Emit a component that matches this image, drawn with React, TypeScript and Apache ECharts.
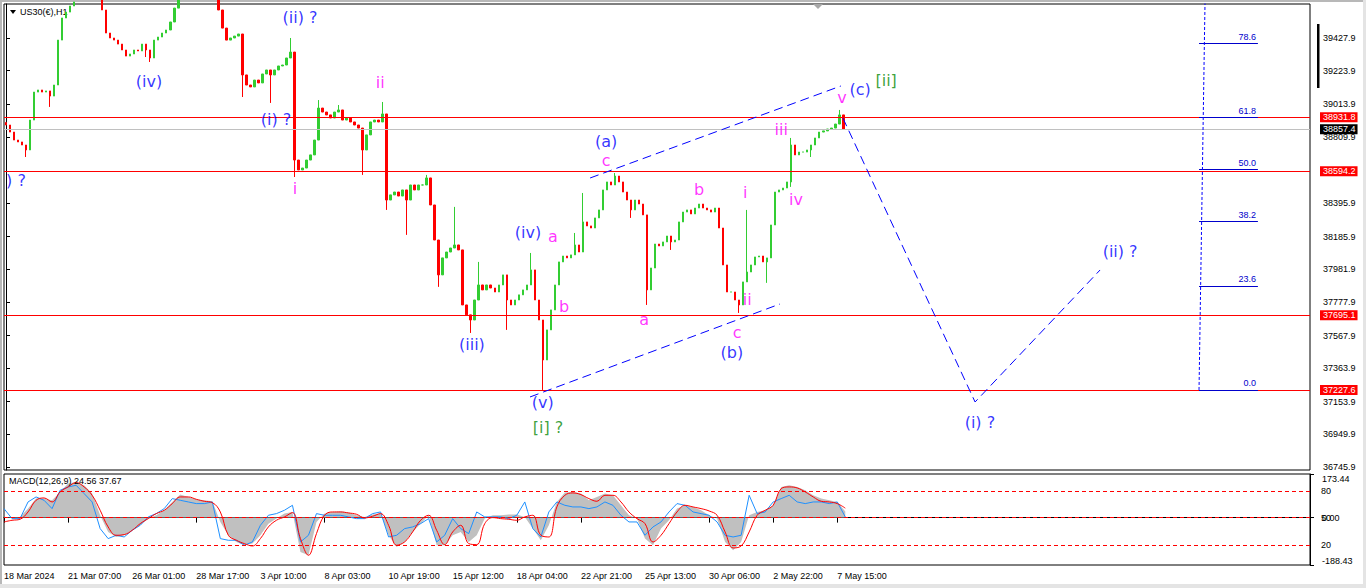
import { useEffect, useRef } from 'react';
import * as echarts from 'echarts';

// ---------- price data (H1 bars resampled, one value per ~4 px column) ----------
const firstOpen = 38900;
const closes = [
  38884, 38840, 38790, 38778, 38759, 38728, 38915, 39090, 39103, 39090,
  39097, 39065, 39134, 39415, 39553, 39590, 39628, 39653, 39728, 39759,
  39790, 39759, 39728, 39697, 39603, 39459, 39428, 39415, 39390, 39353,
  39315, 39328, 39353, 39347, 39390, 39353, 39303, 39415, 39434, 39459,
  39478, 39528, 39615, 39697, 39759, 39790, 39822, 39822, 39790, 39790,
  39759, 39728, 39678, 39603, 39490, 39415, 39428, 39440, 39453, 39197,
  39134, 39122, 39165, 39147, 39203, 39228, 39197, 39228, 39253, 39259,
  39303, 39340, 38665, 38603, 38615, 38665, 38697, 38790, 38990, 38965,
  38947, 38928, 38965, 38978, 38915, 38928, 38903, 38884, 38865, 38728,
  38822, 38903, 38915, 38903, 38953, 38415, 38447, 38465, 38440, 38478,
  38415, 38509, 38478, 38509, 38509, 38553, 38384, 38165, 37947, 38053,
  38090, 38115, 38134, 38103, 37759, 37697, 37665, 37790, 37884, 37853,
  37884, 37865, 37840, 37884, 37947, 37790, 37759, 37790, 37822, 37853,
  37884, 37978, 37790, 37665, 37415, 37603, 37728, 37884, 38028, 38065,
  38053, 38072, 38134, 38090, 38278, 38253, 38240, 38303, 38353, 38478,
  38528, 38509, 38565, 38528, 38465, 38415, 38353, 38415, 38390, 38322,
  37853, 37990, 38140, 38128, 38153, 38190, 38153, 38165, 38278, 38340,
  38353, 38328, 38365, 38390, 38365, 38353, 38340, 38365, 38240, 38009,
  37840, 37840, 37790, 37759, 37903, 37965, 38009, 38059, 38065, 38028,
  38053, 38259, 38465, 38478, 38490, 38528, 38759, 38697, 38715, 38715,
  38728, 38759, 38803, 38840, 38847, 38859, 38865, 38890, 38947, 38857.4,
];
// wick extremes: [bar index, price]
const wicks: [number, number][] = [
  [5, 38684], [11, 38997], [35, 39309], [36, 39278], [59, 39059], [66, 39022],
  [71, 39428], [72, 38559], [78, 39040], [83, 39009], [89, 38572], [94, 39028],
  [95, 38353], [100, 38197], [105, 38572], [108, 37872], [112, 38372], [116, 37584],
  [118, 38028], [125, 37603], [131, 38084], [134, 37227.6], [142, 38209], [144, 38459],
  [152, 38584], [156, 38303], [160, 37759], [166, 38103], [183, 37709], [185, 38353],
  [190, 37897], [196, 38497], [196, 38803], [201, 38684], [208, 38978],
];

const priceTicks = [39427.9, 39223.9, 39013.9, 38809.9, 38395.9, 38185.9, 37981.9, 37777.9,
  37567.9, 37363.9, 37153.9, 36949.9, 36745.9];
const redLevels = [38931.8, 38594.2, 37695.1, 37227.6];
const bidPrice = 38857.4;

const timeLabels = ['18 Mar 2024', '21 Mar 07:00', '26 Mar 01:00', '28 Mar 17:00', '3 Apr 10:00',
  '8 Apr 03:00', '10 Apr 19:00', '15 Apr 12:00', '18 Apr 04:00', '22 Apr 21:00', '25 Apr 13:00',
  '30 Apr 06:00', '2 May 22:00', '7 May 15:00'];

// ---------- MACD (one value per ~8 px column) ----------
const macdHist = [
  0, 2.7, 2.7, 35.8, 75.6, 75.6, 68.9, 102.1, 135.2, 141.8,
  128.6, 95.5, 9.3, -57, -76.9, -70.3, -50.4, -30.5, -4, 9.3,
  29.2, 62.3, 91.5, 82.2, 72.9, 68.9, 65, -17.2, -70.3, -96.8,
  -110, -103.4, -70.3, -23.9, -4, 15.9, 22.5, -136.5, -149.8, -17.2,
  15.9, 22.5, 25.2, 19.9, 9.3, 2.7, 11.9, 15.9, -70.3, -116.7,
  -96.8, -57, -23.9, 9.3, -110, -110, -70.3, -57, -96.8, -70.3,
  -4, 9.3, 9.3, 11.9, 11.9, 2.7, -43.7, -90.1, -30.5, 62.3,
  99.4, 102.1, 95.5, 68.9, 82.2, 95.5, 88.8, 49, 9.3, -4,
  -83.5, -110, -43.7, -10.6, 35.8, 49, 42.4, 29.2, 9.3, -4,
  -96.8, -129.9, -96.8, 9.3, 22.5, 29.2, 49, 122, 128.6, 122,
  108.7, 88.8, 75.6, 68.9, 62.3, 24.56,
];
const macdBlue = [
  35.8, -4, -4, 62.3, 82.2, 68.9, 35.8, 108.7, 122, 128.6,
  95.5, 62.3, -43.7, -83.5, -70.3, -76.9, -50.4, -30.5, 2.7, 15.9,
  35.8, 75.6, 68.9, 62.3, 55.7, 55.7, 62.3, -83.5, -90.1, -90.1,
  -110, -96.8, -30.5, 9.3, 15.9, 29.2, 49, -96.8, -70.3, 15.9,
  9.3, 9.3, 9.3, 2.7, -4, -4, 15.9, 22.5, -76.9, -70.3,
  -43.7, -37.1, -23.9, -4, -96.8, -70.3, -4, -43.7, -63.6, 22.5,
  2.7, 2.7, 2.7, -4, 9.3, 62.3, -43.7, -76.9, 22.5, 62.3,
  49, 42.4, 42.4, 35.8, 42.4, 62.3, 49, 9.3, -17.2, -17.2,
  -70.3, -37.1, -17.2, 22.5, 55.7, 49, 22.5, 15.9, 9.3, -17.2,
  -70.3, -76.9, -70.3, 88.8, 15.9, 22.5, 62.3, 75.6, 88.8, 62.3,
  55.7, 62.3, 62.3, 55.7, 62.3, 2.7,
];
const macdSignal = [
  -17.2, -10.6, -6.6, 22.5, 68.9, 78.2, 62.3, 102.1, 122, 139.2,
  122, 88.8, 29.2, -37.1, -70.3, -67.6, -50.4, -23.9, -4, 15.9,
  29.2, 55.7, 82.2, 82.2, 72.9, 65, 59.7, 22.5, -70.3, -90.1,
  -103.4, -112.7, -83.5, -37.1, -10.6, 2.7, 19.9, -83.5, -149.8, -63.6,
  9.3, 22.5, 22.5, 18.6, 13.3, -1.3, 5.3, 15.9, -30.5, -110,
  -96.8, -57, -10.6, 9.3, -50.4, -107.4, -57, -30.5, -103.4, -107.4,
  -23.9, 0, -4, -6.6, -10.6, 2.7, 9.3, -70.3, -76.9, 42.4,
  88.8, 98.1, 91.5, 75.6, 65, 88.8, 88.8, 62.3, 22.5, -4,
  -23.9, -96.8, -70.3, -23.9, 22.5, 49, 42.4, 35.8, 26.5, 9.3,
  -57, -120.6, -112.7, -57, 9.3, 29.2, 49, 115.3, 122, 118,
  102.1, 82.2, 65, 62.3, 55.7, 37.67,
];
const macdMin = -188.43;
const macdMax = 173.44;
const macdTicks = [-188.43, 0, 173.44];
const macdLevelValues = [106.2, 0, -108.6];
const macdLevelNames = ['80', '50', '20'];

// ---------- Elliott wave annotations: [text, bar position, price, colour key] ----------
const waveLabels: [string, number, number, string][] = [
  ['(iv)', 35.7, 39153, 'blue'], ['(ii) ?', 73.4, 39559, 'blue'], ['(i) ?', 67.4, 38921, 'blue'],
  [') ?', 2.5, 38540, 'blue'], ['ii', 93.4, 39147, 'pink'], ['i', 72.1, 38490, 'pink'],
  ['(iii)', 116.3, 37509, 'blue'], ['(iv)', 130.3, 38215, 'blue'], ['a', 136.5, 38184, 'pink'],
  ['b', 139.3, 37752, 'pink'], ['(v)', 134.0, 37146, 'blue'], ['[i] ?', 135.3, 36990, 'green'],
  ['(a)', 149.8, 38778, 'blue'], ['c', 149.8, 38659, 'pink'], ['a', 159.3, 37671, 'pink'],
  ['b', 173.0, 38478, 'pink'], ['i', 184.5, 38465, 'pink'], ['ii', 185.0, 37790, 'pink'],
  ['c', 182.5, 37584, 'pink'], ['(b)', 181.2, 37459, 'blue'], ['iii', 193.5, 38859, 'pink'],
  ['iv', 197.2, 38421, 'pink'], ['v', 208.7, 39053, 'pink'], ['(c)', 213.2, 39103, 'blue'],
  ['[ii]', 219.7, 39165, 'green'], ['(i) ?', 243.1, 37027, 'blue'], ['(ii) ?', 278.1, 38096, 'blue'],
];
const waveLines: [number, number][][] = [
  [[145.8, 38552.7], [208.4, 39127.9]],
  [[130.8, 37183.6], [193.2, 37765.0]],
  [[208.9, 38927.8], [241.9, 37152.3], [273.1, 37977.5]],
];

// ---------- Fibonacci retracement ----------
const fibLow = 37227.6;
const fibHigh = 39986.0;
const fibLevels = [0, 23.6, 38.2, 50, 61.8, 78.6];
const fibBars = [297.8, 312.5];
const fibTrendBars = [297.8, 299.5];

const CANDLE_SLOTS = 326;
const MACD_SLOTS = 164;
const FONT = 'Liberation Sans, Arial, sans-serif';
const WAVE_FONT = 'DejaVu Sans, sans-serif';
const colours: Record<string, string> = { blue: '#0000FF', pink: '#FF00FF', green: '#0A8A0A' };

export default function App() {
  const ref = useRef<HTMLDivElement>(null);

  useEffect(() => {
    if (!ref.current) return;
    const chart = echarts.init(ref.current, undefined, { renderer: 'svg' });

    const candleCats = Array.from({ length: CANDLE_SLOTS }, (_, i) => String(i));
    const candleData = closes.map((c, i) => {
      const o = i === 0 ? firstOpen : closes[i - 1];
      let lo = Math.min(o, c);
      let hi = Math.max(o, c);
      wicks.forEach(([idx, p]) => {
        if (idx === i) { lo = Math.min(lo, p); hi = Math.max(hi, p); }
      });
      return [o, c, lo, hi];
    });
    const macdCats = Array.from({ length: MACD_SLOTS }, (_, k) =>
      k % 8 === 0 && k / 8 < timeLabels.length ? timeLabels[k / 8] : '');

    const priceLabel = (bg: string) => ({
      show: true, position: 'end', distance: 10, color: '#fff', backgroundColor: bg,
      padding: [1, 2, 0, 3], fontSize: 9, fontFamily: FONT,
      formatter: (p: any) => Number(p.value).toFixed(1),
    });

    const option: any = {
      animation: false,
      backgroundColor: '#ffffff',
      grid: [
        { left: 4, top: 4, width: 1306, height: 466, show: true, borderColor: '#000', borderWidth: 1,
          containLabel: false, outerBoundsMode: 'none' },
        { left: 4, top: 474, width: 1306, height: 91, show: true, borderColor: '#000', borderWidth: 1,
          containLabel: false, outerBoundsMode: 'none' },
      ],
      xAxis: [
        { type: 'category', gridIndex: 0, data: candleCats, boundaryGap: true,
          axisLine: { show: false }, axisTick: { show: false }, axisLabel: { show: false }, splitLine: { show: false } },
        { type: 'value', gridIndex: 0, min: -0.5, max: CANDLE_SLOTS - 0.5, show: false, splitLine: { show: false } },
        { type: 'category', gridIndex: 1, data: macdCats, boundaryGap: false,
          axisLine: { show: true, lineStyle: { color: '#000', width: 1 } },
          axisTick: { show: true, length: 5, lineStyle: { color: '#000' },
            interval: (_i: number, v: string) => v !== '' },
          axisLabel: { show: true, interval: 0, align: 'left', margin: 6, fontSize: 9, color: '#000',
            fontFamily: FONT, hideOverlap: false },
          splitLine: { show: false } },
      ],
      yAxis: [
        { type: 'value', gridIndex: 0, position: 'right', min: 36727.1, max: 39640.5,
          axisLine: { show: true, lineStyle: { color: '#000' } },
          axisTick: { show: true, length: 4, customValues: priceTicks, lineStyle: { color: '#000' } },
          axisLabel: { show: true, customValues: priceTicks, margin: 13, fontSize: 9, color: '#000',
            fontFamily: FONT, formatter: (v: number) => v.toFixed(1) },
          splitLine: { show: false } },
        { type: 'value', gridIndex: 1, position: 'right', min: macdMin, max: macdMax,
          axisLine: { show: true, lineStyle: { color: '#000' } },
          axisTick: { show: true, length: 4, customValues: macdTicks, lineStyle: { color: '#000' } },
          axisLabel: { show: true, customValues: macdTicks, margin: 12, fontSize: 9, color: '#000',
            fontFamily: FONT, formatter: (v: number) => v.toFixed(2),
            verticalAlignMinLabel: 'bottom', verticalAlignMaxLabel: 'top' },
          splitLine: { show: false } },
      ],
      series: [
        {
          type: 'candlestick', xAxisIndex: 0, yAxisIndex: 0, data: candleData, barWidth: 2, clip: true,
          itemStyle: { color: '#32CD32', color0: '#FF0000', borderColor: '#32CD32', borderColor0: '#FF0000', borderWidth: 1 },
          markLine: {
            silent: true, symbol: ['none', 'none'], animation: false,
            data: [
              ...redLevels.map((v) => ({ yAxis: v, lineStyle: { color: '#FF0000', width: 1, type: 'solid' },
                label: priceLabel('#FF0000') })),
              { yAxis: bidPrice, lineStyle: { color: '#C0C0C0', width: 1, type: 'solid' }, label: priceLabel('#000000') },
            ],
          },
          z: 2,
        },
        ...waveLines.map((pts) => ({
          type: 'line', xAxisIndex: 1, yAxisIndex: 0, data: pts, symbol: 'none', silent: true,
          lineStyle: { color: '#0000FF', width: 1, type: [9, 5] }, z: 5,
        })),
        {
          type: 'line', xAxisIndex: 1, yAxisIndex: 0, silent: true, symbol: 'none', clip: true,
          data: [[fibTrendBars[0], fibLow], [fibTrendBars[1], fibHigh]],
          lineStyle: { color: '#0000FF', width: 1, type: [3, 2] }, z: 6,
          markLine: {
            silent: true, symbol: ['none', 'none'], animation: false,
            data: fibLevels.map((lv) => {
              const p = fibLow + (fibHigh - fibLow) * lv / 100;
              return [
                { coord: [fibBars[0], p], lineStyle: { color: '#0000CC', width: 1, type: 'solid' } },
                { coord: [fibBars[1], p], label: { show: true, position: 'insideEndTop', distance: 2,
                  formatter: lv.toFixed(1), color: '#0000CC', fontSize: 9, fontFamily: FONT } },
              ];
            }),
          },
        },
        {
          type: 'scatter', xAxisIndex: 1, yAxisIndex: 0, symbolSize: 1, silent: true, z: 10,
          itemStyle: { color: 'rgba(0,0,0,0)' },
          data: waveLabels.map(([t, b, p, c]) => ({
            name: t, value: [b, p], label: { color: colours[c] },
          })),
          label: { show: true, position: 'inside', formatter: (p: any) => p.name, fontSize: 16,
            fontFamily: WAVE_FONT },
        },
        {
          type: 'line', xAxisIndex: 2, yAxisIndex: 1, data: macdHist, symbol: 'none', silent: true,
          lineStyle: { width: 0, opacity: 0 }, areaStyle: { color: '#C0C0C0', opacity: 1 }, z: 2,
          markLine: {
            silent: true, symbol: ['none', 'none'], animation: false,
            data: macdLevelValues.map((v, i) => ({
              yAxis: v, lineStyle: { color: '#FF0000', width: 1, type: [4, 3] },
              label: { show: true, position: 'end', distance: 11, formatter: macdLevelNames[i],
                color: '#000', fontSize: 9, fontFamily: FONT },
            })),
          },
        },
        {
          type: 'line', xAxisIndex: 2, yAxisIndex: 1, data: macdBlue, symbol: 'none', silent: true,
          lineStyle: { color: '#1E90FF', width: 1 }, z: 3,
        },
        {
          type: 'line', xAxisIndex: 2, yAxisIndex: 1, data: macdSignal, symbol: 'none', silent: true,
          smooth: 0.4, lineStyle: { color: '#FF0000', width: 1 }, z: 4,
        },
      ],
      graphic: [
        { type: 'rect', shape: { x: 0, y: 0, width: 1366, height: 2 }, style: { fill: '#B8B8B8' }, silent: true },
        { type: 'rect', shape: { x: 0, y: 0, width: 2, height: 588 }, style: { fill: '#B8B8B8' }, silent: true },
        { type: 'rect', shape: { x: 1363, y: 0, width: 3, height: 588 }, style: { fill: '#E4E4E4' }, silent: true },
        { type: 'rect', shape: { x: 0, y: 584, width: 1366, height: 4 }, style: { fill: '#E4E4E4' }, silent: true },
        { type: 'polygon', shape: { points: [[10, 10], [16, 10], [13, 14]] }, style: { fill: '#000' }, silent: true },
        { type: 'text', x: 20, y: 12, style: { text: 'US30(€),H1', fill: '#000', fontSize: 9, fontFamily: FONT,
          verticalAlign: 'middle' }, silent: true },
        { type: 'polygon', shape: { points: [[813, 4], [823, 4], [818, 9]] }, style: { fill: '#A8A8A8' }, silent: true },
        { type: 'rect', shape: { x: 1317, y: 24, width: 2.5, height: 64 }, style: { fill: '#000' }, silent: true },
        { type: 'text', x: 9, y: 481, style: {
          text: `MACD(12,26,9) ${macdHist[macdHist.length - 1].toFixed(2)} ${macdSignal[macdSignal.length - 1].toFixed(2)}`,
          fill: '#000', fontSize: 9, fontFamily: FONT, verticalAlign: 'middle' }, silent: true, z: 100 },
      ],
    };

    chart.setOption(option);
    return () => chart.dispose();
  }, []);

  return (
    <div
      ref={ref}
      style={{ position: 'absolute', left: 0, top: 0, width: 1366, height: 588, background: '#fff' }}
    />
  );
}
